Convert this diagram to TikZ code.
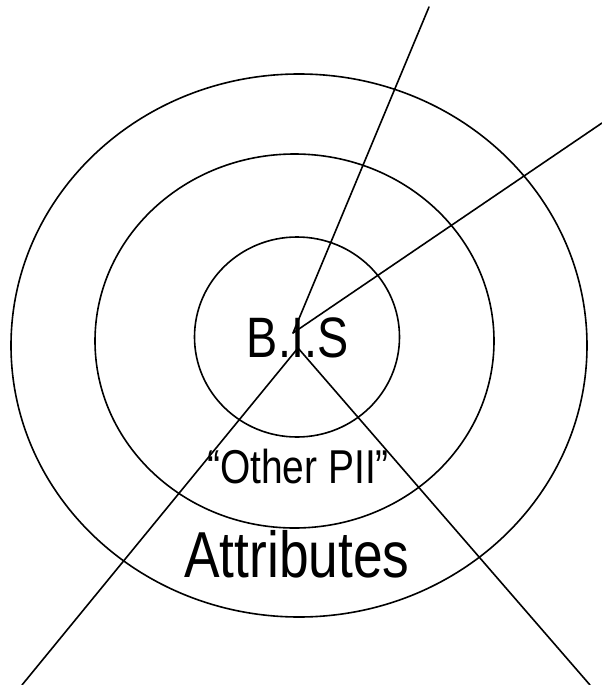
\documentclass[tikz,border=0pt]{standalone}
\usepackage{fontspec}
\setmainfont{Liberation Sans}
\usetikzlibrary{positioning,shapes.geometric}

\begin{document}
\begin{tikzpicture}[x=1pt,y=-1pt, every node/.style={inner sep=0pt},
  ring/.style={ellipse,draw,line width=1.6pt},
  word/.style={anchor=base,xscale=.82},
  ray/.style={draw,line width=1.6pt,line cap=round}]
  \useasboundingbox (0,0) rectangle (602,685);
  % rings
  \node[ring,minimum width=576,minimum height=543] (outer) at (299,345.5) {};
  \node[ring,minimum width=399,minimum height=374] (middle) at (294.5,341) {};
  \node[ring,minimum width=205,minimum height=200] (inner) at (297,337) {};
  % labels
  \node[word,font=\fontsize{57}{60}\selectfont] (bis) at (297.5,357) {B.I.S};
  \node[word,font=\fontsize{47.5}{50}\selectfont] (pii) at (298,483) {“Other PII”};
  \node[word,font=\fontsize{65}{68}\selectfont] (attr) at (297,577) {Attributes};
  % rays
  \coordinate (hubn) at (293,333); \coordinate (hubs) at (298,348);
  \coordinate (n) at (429,7); \coordinate (ne) at (602,123);
  \coordinate (sw) at (22,685); \coordinate (se) at (590,685);
  \draw[ray] (hubn)--(n); \draw[ray] (hubn)--(ne); \draw[ray] (hubs)--(sw); \draw[ray] (hubs)--(se);
\end{tikzpicture}
\end{document}
